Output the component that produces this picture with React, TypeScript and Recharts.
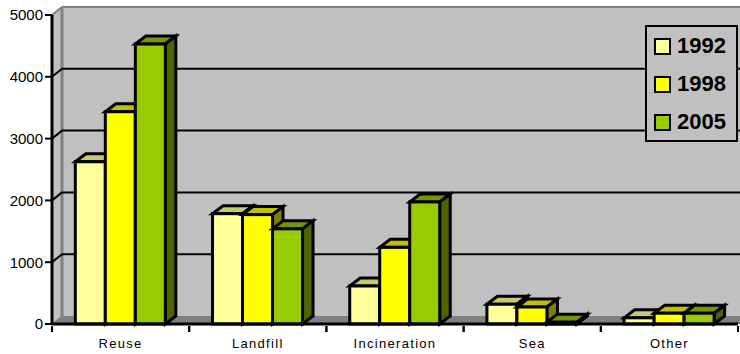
import React from "react";
import { BarChart, Bar, XAxis, YAxis, CartesianGrid, Legend, usePlotArea } from "recharts";

const categories = ["Reuse", "Landfill", "Incineration", "Sea", "Other"];
const values1992 = [2625, 1785, 615, 320, 100];
const values1998 = [3435, 1770, 1240, 275, 175];
const values2005 = [4530, 1540, 1975, 30, 175];
const yTicks = [0, 1000, 2000, 3000, 4000, 5000];

const rows = categories.map((name, i) => ({
  name,
  y1992: values1992[i],
  y1998: values1998[i],
  y2005: values2005[i],
}));

// how far the back wall and the bar tops are pushed back
const DEPTH_X = 10;
const DEPTH_Y = 8;
const BAR_DEPTH_X = 10.5;
const WALL = "#c0c0c0";
const EDGE = "#808080";

function Walls() {
  const plot = usePlotArea();
  if (!plot) return null;
  const left = plot.x;
  const top = plot.y;
  const bottom = plot.y + plot.height;
  const right = plot.x + plot.width + 3;
  return (
    <g>
      <rect x={left + DEPTH_X} y={top - DEPTH_Y} width={right - left - DEPTH_X} height={plot.height} fill={WALL} />
      <polygon
        points={`${left},${top} ${left + DEPTH_X},${top - DEPTH_Y} ${left + DEPTH_X},${bottom - DEPTH_Y} ${left},${bottom}`}
        fill={WALL}
      />
      <polygon
        points={`${left},${bottom} ${left + DEPTH_X},${bottom - DEPTH_Y} ${right},${bottom - DEPTH_Y} ${right},${bottom}`}
        fill={EDGE}
      />
      <line x1={left} y1={top} x2={left + DEPTH_X} y2={top - DEPTH_Y} stroke={EDGE} strokeWidth={2} />
      <line x1={left + DEPTH_X} y1={top - DEPTH_Y} x2={right} y2={top - DEPTH_Y} stroke={EDGE} strokeWidth={2} />
      <line x1={left + DEPTH_X} y1={top - DEPTH_Y} x2={left + DEPTH_X} y2={bottom - DEPTH_Y} stroke={EDGE} strokeWidth={3} />
      <line x1={left} y1={bottom} x2={left + DEPTH_X} y2={bottom - DEPTH_Y} stroke={EDGE} strokeWidth={1} />
    </g>
  );
}

// gridline runs along the back wall, with a slanted run on the side wall
function GridRun(props: any) {
  const { x1, x2, y1 } = props;
  if (y1 < 20 || y1 > 320) return <g />;
  return (
    <g stroke="#000" strokeWidth={2} fill="none">
      <line x1={x1} y1={y1} x2={x1 + DEPTH_X} y2={y1 - DEPTH_Y} />
      <line x1={x1 + DEPTH_X} y1={y1 - DEPTH_Y} x2={x2 + 3} y2={y1 - DEPTH_Y} />
    </g>
  );
}

function Prism(props: any) {
  const { x, y, width, height, front, topFace, sideFace } = props;
  const r = x + width;
  const b = y + height;
  return (
    <g stroke="#000" strokeWidth={3} strokeLinejoin="miter">
      <polygon
        points={`${x},${y} ${x + BAR_DEPTH_X},${y - DEPTH_Y} ${r + BAR_DEPTH_X},${y - DEPTH_Y} ${r},${y}`}
        fill={topFace}
      />
      <polygon
        points={`${r},${y} ${r + BAR_DEPTH_X},${y - DEPTH_Y} ${r + BAR_DEPTH_X},${b - DEPTH_Y} ${r},${b}`}
        fill={sideFace}
      />
      <rect x={x} y={y} width={width} height={height} fill={front} />
    </g>
  );
}

function CategoryTick(props: any) {
  const { x, y, payload, width } = props;
  const half = width / categories.length / 2;
  return (
    <g>
      <line x1={x - half} y1={y - 6} x2={x - half} y2={y} stroke="#000" strokeWidth={2} />
      <line x1={x + half} y1={y - 6} x2={x + half} y2={y} stroke="#000" strokeWidth={2} />
      <text x={x} y={y + 16} textAnchor="middle" fontSize={13} letterSpacing={1.3} fill="#000">
        {payload.value}
      </text>
    </g>
  );
}

function LegendBox({ payload }: any) {
  return (
    <div
      style={{
        boxSizing: "border-box",
        width: 93,
        height: 117,
        background: WALL,
        border: "2px solid #000",
        padding: "0 0 0 7px",
      }}
    >
      {(payload || []).map((item: any) => (
        <div
          key={item.value}
          style={{ display: "flex", alignItems: "center", height: 38, fontSize: 22, fontWeight: "bold", color: "#000" }}
        >
          <span
            style={{
              boxSizing: "border-box",
              width: 17,
              height: 17,
              marginRight: 6,
              background: item.color,
              border: "2px solid #000",
            }}
          />
          {item.value}
        </div>
      ))}
    </div>
  );
}

export default function App() {
  return (
    <div style={{ position: "absolute", left: 0, top: 0, width: 740, height: 354, background: "#fff", fontFamily: "'Liberation Sans', Arial, sans-serif" }}>
      <BarChart
        width={740}
        height={354}
        data={rows}
        margin={{ top: 15, right: 2, bottom: 0, left: 0 }}
        barCategoryGap="17%"
        barGap={0}
      >
        <Walls />
        <CartesianGrid vertical={false} zIndex={1} horizontal={(p: any) => <GridRun key={p.key} {...p} />} />
        <XAxis
          dataKey="name"
          height={30}
          interval={0}
          axisLine={{ stroke: "#000", strokeWidth: 3 }}
          tickLine={false}
          tick={<CategoryTick />}
        />
        <YAxis
          width={52}
          domain={[0, 5000]}
          ticks={yTicks}
          interval={0}
          axisLine={{ stroke: "#000", strokeWidth: 3 }}
          tickLine={{ stroke: "#000", strokeWidth: 2 }}
          tickSize={7}
          tick={{ fill: "#000", fontSize: 15 }}
        />
        <Legend
          layout="vertical"
          verticalAlign="middle"
          align="center"
          wrapperStyle={{ position: "absolute", left: 645, top: 25, width: 93 }}
          content={<LegendBox />}
        />
        <Bar dataKey="y1992" name="1992" fill="#ffff99" isAnimationActive={false} shape={<Prism front="#ffff99" topFace="#c8c870" sideFace="#80804d" />} />
        <Bar dataKey="y1998" name="1998" fill="#ffff00" isAnimationActive={false} shape={<Prism front="#ffff00" topFace="#c0c000" sideFace="#808000" />} />
        <Bar dataKey="y2005" name="2005" fill="#99cc00" isAnimationActive={false} shape={<Prism front="#99cc00" topFace="#739900" sideFace="#4d6600" />} />
      </BarChart>
    </div>
  );
}
